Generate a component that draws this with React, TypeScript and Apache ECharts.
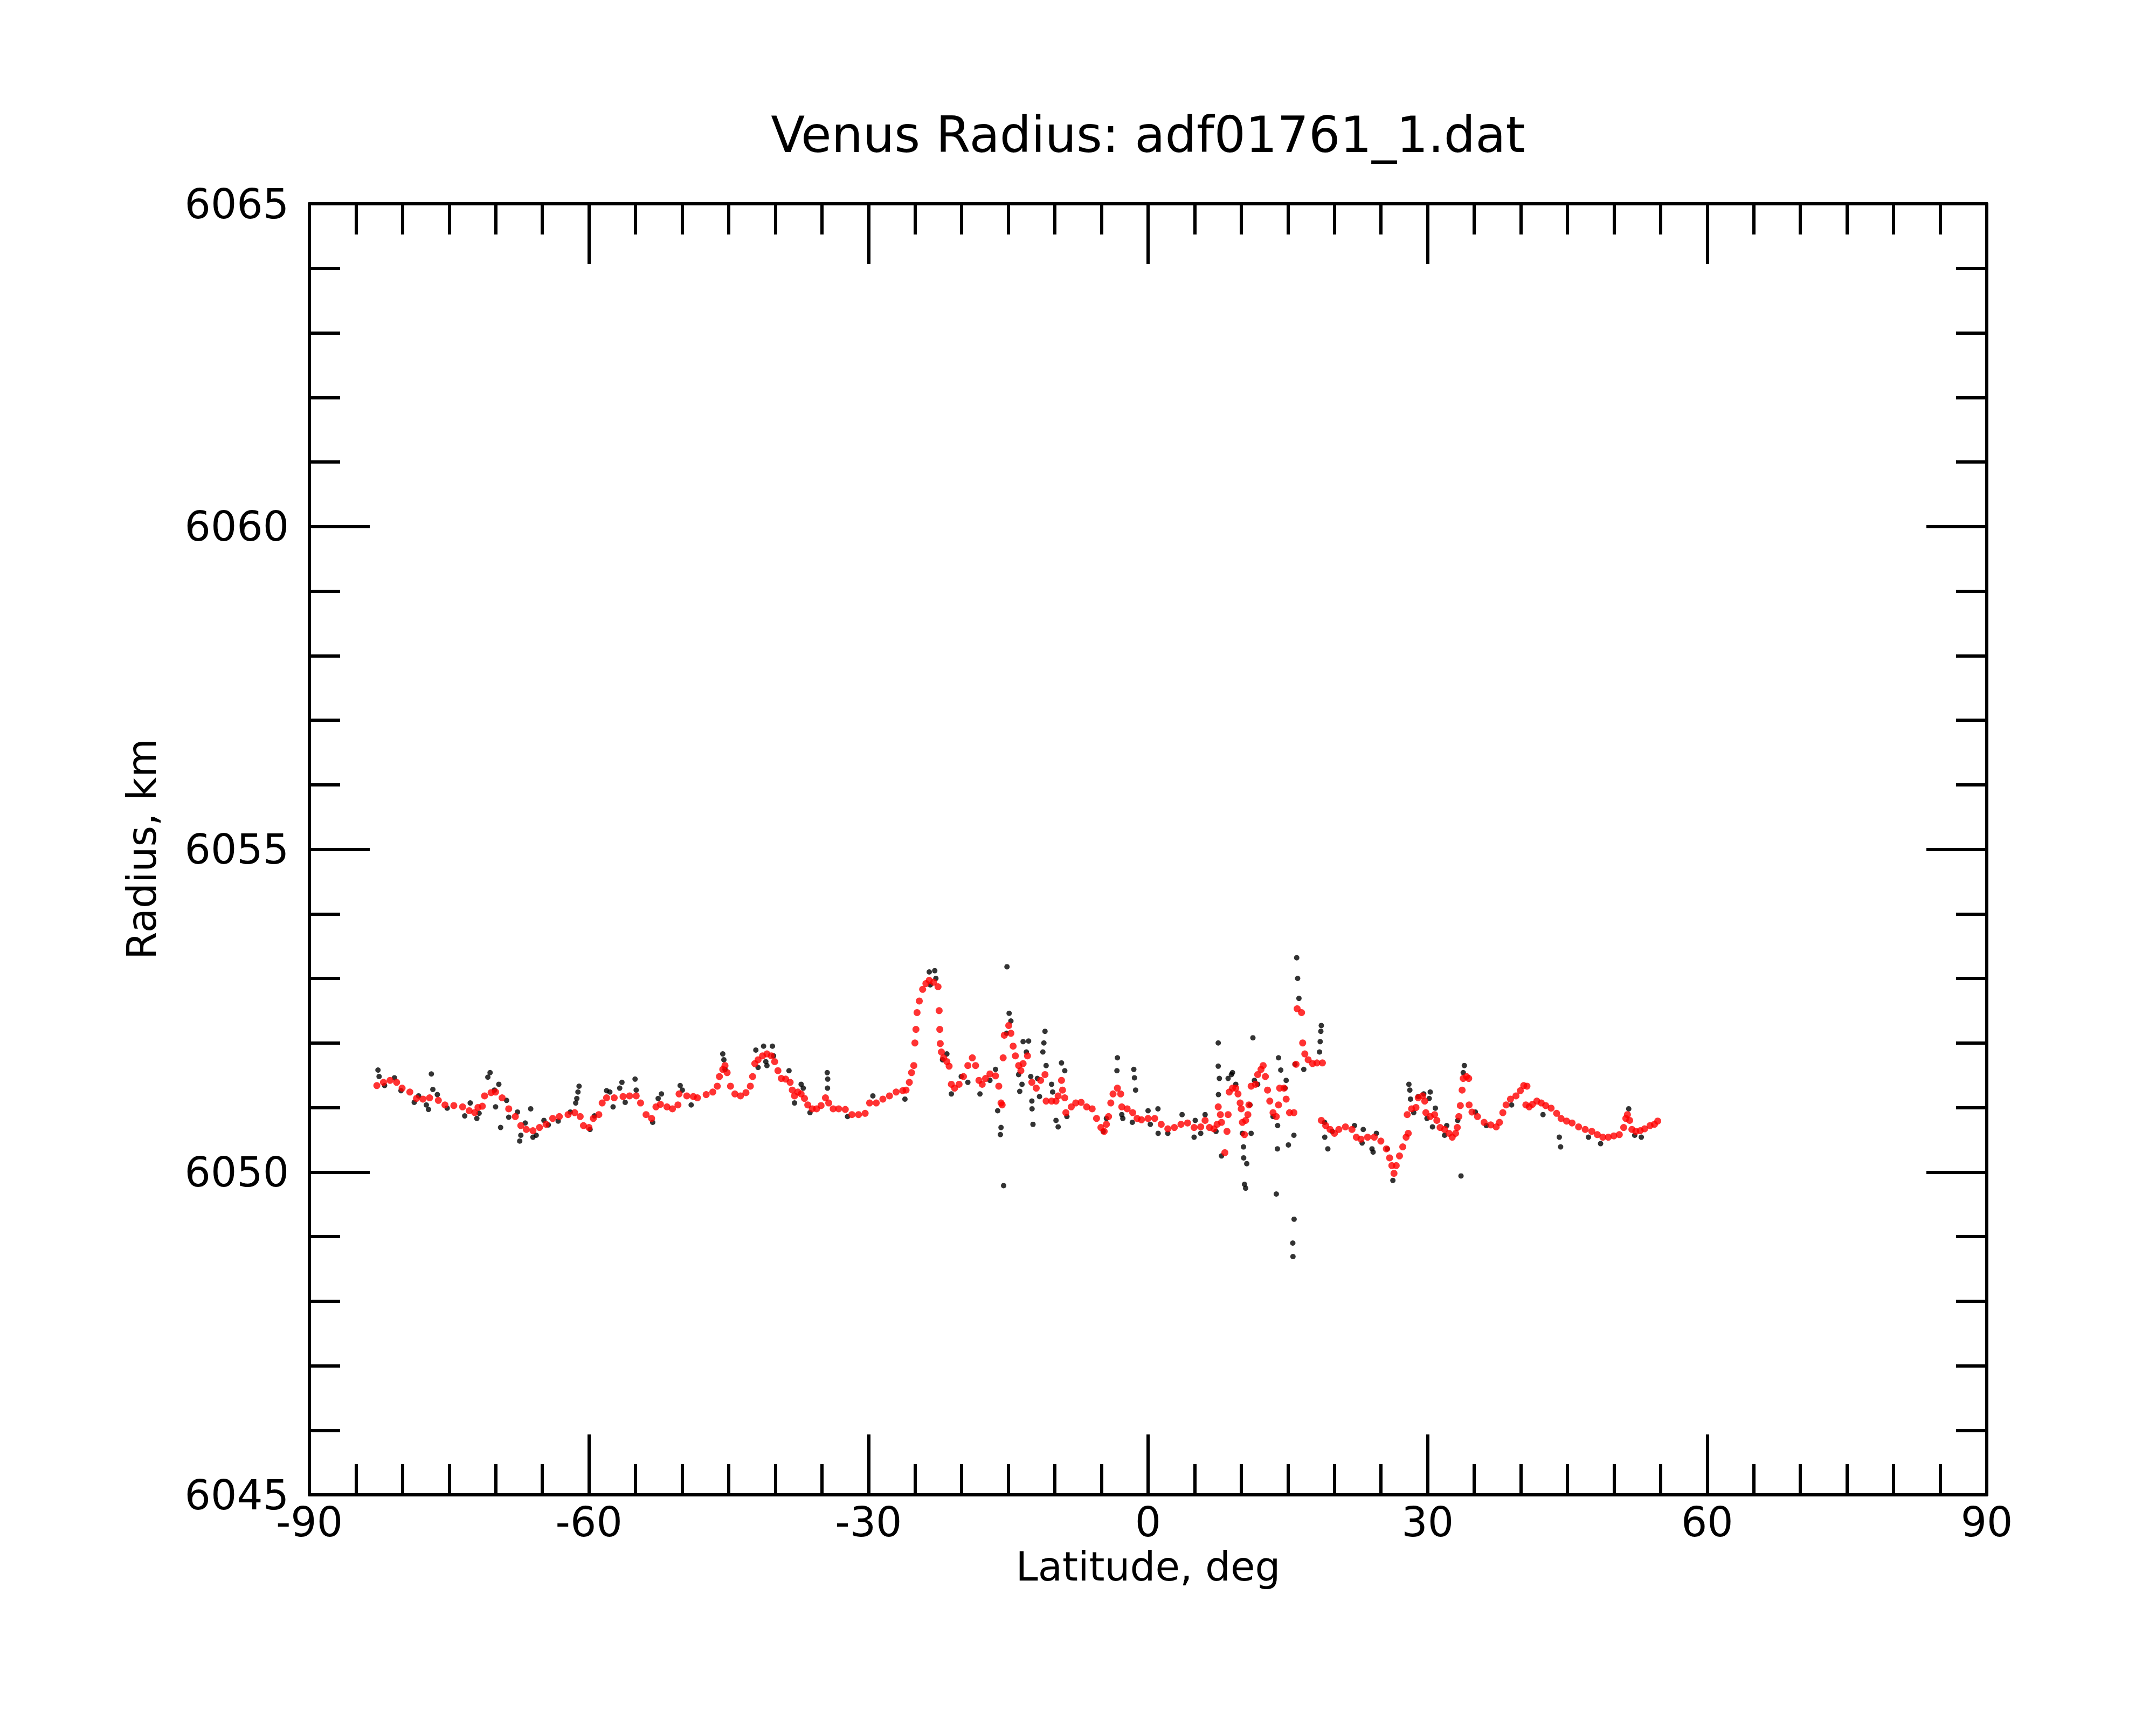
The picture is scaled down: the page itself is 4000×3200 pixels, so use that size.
import React, { useEffect, useRef } from "react";
import * as echarts from "echarts";

const TITLE = "Venus Radius: adf01761_1.dat";
const X_NAME = "Latitude, deg";
const Y_NAME = "Radius, km";
const X_MIN = -90;
const X_MAX = 90;
const X_STEP = 30;
const Y_MIN = 6045;
const Y_MAX = 6065;
const Y_STEP = 5;

// smoothed profile (red)
const redLat = [
  -82.76, -82.05, -81.34, -80.64, -80.05, -79.22, -78.51, -77.81, -77.1, -76.16,
  -75.45, -74.5, -73.56, -72.85, -72.26, -71.91, -71.44, -71.2, -70.5, -70.02,
  -69.32, -68.61, -67.9, -67.31, -66.72, -66.01, -65.31, -64.6, -63.89, -63.18,
  -62.24, -61.53, -60.94, -60.59, -60.0, -59.53, -58.94, -58.58, -58.11, -57.29,
  -56.34, -55.64, -54.93, -54.46, -53.87, -53.28, -52.81, -52.33, -51.63, -51.04,
  -50.45, -50.33, -49.5, -48.8,
  -48.36, -47.42, -46.71, -46.23, -46.0, -45.64, -45.4, -45.17, -44.81, -44.34,
  -43.74, -43.15, -42.68, -42.44, -42.2, -41.85, -41.37, -40.9, -40.43, -40.07,
  -39.72, -39.36, -38.89, -38.41, -38.18, -37.94, -37.58, -37.23, -36.87, -36.52,
  -36.04, -35.57, -35.09, -34.62, -34.27, -33.79, -33.2, -32.49, -31.78, -31.07,
  -30.36, -29.88, -29.17, -28.46, -27.75, -27.04, -26.33, -25.97, -25.62, -25.38,
  -25.14, -25.02, -24.91, -24.79, -24.55, -24.19, -23.84, -23.48, -23.01, -22.54,
  -22.42, -22.35, -22.3, -22.18, -21.94, -21.59, -21.35, -21.11, -20.76, -20.28,
  -19.81, -19.34, -18.86, -18.51, -18.15, -17.8, -17.44, -16.97, -16.37, -16.02,
  -15.78, -15.66, -15.55, -15.43, -14.95, -14.72, -14.48, -14.24, -13.89, -13.65,
  -13.41, -12.94, -12.47, -12.0, -11.53, -11.06, -10.94, -10.35, -9.88, -9.65,
  -9.29, -9.18, -8.94, -8.82, -8.24, -7.76, -7.18, -6.59, -6.0, -5.53,
  -5.06, -4.71, -4.47, -4.24, -4.0, -3.76, -3.29, -2.94, -2.82, -2.24,
  -1.65, -1.18, -0.71, 0.0, 0.71, 1.41, 2.12, 2.82, 3.53, 4.24,
  4.94, 5.65, 6.12, 6.59, 7.06, 7.41, 7.53, 7.76, 7.88, 8.24,
  8.47, 8.59, 8.71, 9.06, 9.41, 9.65, 9.88, 10.0, 10.12, 10.35,
  10.47, 10.71, 10.82, 11.06, 11.53, 11.76, 12.12, 12.35, 12.59, 12.82,
  13.06, 13.41, 13.76, 14.0, 14.12, 14.59, 14.82, 15.18, 15.65, 15.88,
  16.0, 16.47, 16.59, 16.82, 17.18, 17.65, 18.12, 18.71, 18.59, 19.06,
  19.53, 20.0, 20.47, 21.18, 21.88, 22.35,
  22.85, 23.56, 24.27, 24.98, 25.57, 25.92, 26.16, 26.39, 26.63, 26.98,
  27.33, 27.69, 27.92, 27.81, 28.28, 28.75, 28.99, 29.46, 29.69, 29.81,
  30.28, 30.75, 30.99, 31.34, 31.82, 32.29, 32.64, 33.0, 33.18, 33.35,
  33.51, 33.7, 33.82, 34.17, 34.41, 34.45, 34.76, 35.35, 36.06, 36.77,
  37.36, 37.71, 38.07, 38.42, 38.89, 39.48, 39.95, 40.31, 40.66, 40.54,
  40.9, 41.25, 41.72, 42.19, 42.67, 43.25, 43.84, 44.32, 44.91, 45.5,
  46.2, 46.91, 47.62, 48.21, 48.8, 49.39, 49.98, 50.57, 51.04, 51.27,
  51.44, 51.68, 51.92, 52.34, 52.81, 53.28, 53.87, 54.34, 54.69,
];
const redRad = [
  6051.34, 6051.39, 6051.42, 6051.39, 6051.3, 6051.24, 6051.14, 6051.13, 6051.15, 6051.11,
  6051.04, 6051.03, 6051.01, 6050.95, 6050.92, 6051.0, 6051.02, 6051.18, 6051.23, 6051.24,
  6051.15, 6050.98, 6050.86, 6050.72, 6050.66, 6050.64, 6050.69, 6050.74, 6050.83, 6050.86,
  6050.89, 6050.92, 6050.86, 6050.72, 6050.69, 6050.83, 6050.89, 6051.07, 6051.15, 6051.15,
  6051.17, 6051.18, 6051.18, 6051.07, 6050.89, 6050.83, 6051.01, 6051.05, 6051.01, 6050.98,
  6051.04, 6051.21, 6051.18, 6051.17,
  6051.15, 6051.2, 6051.24, 6051.33, 6051.48, 6051.59, 6051.65, 6051.54, 6051.33, 6051.21,
  6051.18, 6051.23, 6051.33, 6051.48, 6051.68, 6051.74, 6051.8, 6051.83, 6051.8, 6051.71,
  6051.57, 6051.45, 6051.44, 6051.39, 6051.27, 6051.18, 6051.24, 6051.21, 6051.14, 6051.04,
  6050.98, 6050.98, 6051.03, 6051.15, 6051.07, 6050.98, 6050.98, 6050.97, 6050.89, 6050.89,
  6050.91, 6051.07, 6051.07, 6051.13, 6051.18, 6051.24, 6051.26, 6051.27, 6051.39, 6051.54,
  6051.65, 6052.0, 6052.21, 6052.47, 6052.65, 6052.83, 6052.92, 6052.97, 6052.94, 6052.87,
  6052.5, 6052.21, 6051.99, 6051.86, 6051.77, 6051.71, 6051.64, 6051.36, 6051.3, 6051.36,
  6051.48, 6051.65, 6051.77, 6051.65, 6051.42, 6051.36, 6051.45, 6051.52, 6051.49, 6051.33,
  6051.07, 6051.04, 6051.77, 6052.12, 6052.27, 6052.15, 6051.95, 6051.8, 6051.65, 6051.57,
  6051.68, 6051.8, 6051.39, 6051.3, 6051.42, 6051.51, 6051.1, 6051.1, 6051.1, 6051.18,
  6051.42, 6051.27, 6051.15, 6050.92, 6051.01, 6051.07, 6051.08, 6051.01, 6050.98, 6050.83,
  6050.69, 6050.63, 6050.74, 6050.86, 6051.07, 6051.21, 6051.3, 6051.21, 6051.01, 6050.98,
  6050.92, 6050.83, 6050.81, 6050.83, 6050.83, 6050.74, 6050.67, 6050.69, 6050.74, 6050.76,
  6050.69, 6050.7, 6050.8, 6050.69, 6050.67, 6050.74, 6051.01, 6050.89, 6050.77, 6050.3,
  6050.63, 6050.89, 6051.24, 6051.3, 6051.3, 6051.21, 6051.07, 6050.98, 6050.77, 6050.58,
  6050.8, 6050.89, 6051.04, 6051.33, 6051.36, 6051.51, 6051.59, 6051.65, 6051.48, 6051.27,
  6051.1, 6050.92, 6050.86, 6051.04, 6051.3, 6051.3, 6051.13, 6050.92, 6050.92, 6051.67,
  6052.53, 6052.47, 6052.0, 6051.83, 6051.74, 6051.68, 6051.69, 6051.69, 6050.8, 6050.72,
  6050.66, 6050.6, 6050.66, 6050.7, 6050.66, 6050.54,
  6050.51, 6050.54, 6050.54, 6050.48, 6050.36, 6050.22, 6050.1, 6049.98, 6050.1, 6050.25,
  6050.39, 6050.54, 6050.6, 6050.89, 6050.98, 6051.0, 6051.15, 6051.18, 6051.1, 6050.92,
  6050.86, 6050.89, 6050.8, 6050.69, 6050.66, 6050.6, 6050.54, 6050.6, 6050.69, 6050.86,
  6051.03, 6051.27, 6051.45, 6051.48, 6051.45, 6051.04, 6050.93, 6050.86, 6050.77, 6050.73,
  6050.7, 6050.77, 6050.92, 6051.04, 6051.13, 6051.18, 6051.26, 6051.34, 6051.33, 6051.04,
  6051.01, 6051.05, 6051.1, 6051.07, 6051.03, 6050.99, 6050.91, 6050.83, 6050.79, 6050.76,
  6050.7, 6050.66, 6050.63, 6050.58, 6050.54, 6050.54, 6050.56, 6050.58, 6050.69, 6050.83,
  6050.89, 6050.8, 6050.66, 6050.63, 6050.64, 6050.67, 6050.72, 6050.74, 6050.79,
];

// raw measurements (black)
const blackLat = [
  -82.64, -82.52, -81.93, -80.87, -80.17, -78.75, -78.28, -77.45, -77.22, -76.91,
  -76.75, -76.27, -75.21, -73.33, -72.74, -72.03, -71.79, -70.85, -70.61, -70.14,
  -70.02, -69.67, -69.48, -68.84, -68.61, -67.67, -67.43, -67.31, -66.84, -66.25,
  -66.01, -65.66, -64.83, -64.36, -63.3, -62.0, -61.3, -61.06, -61.18, -61.42,
  -59.88, -59.41, -58.11, -57.76, -57.41, -56.7, -56.46, -56.11, -55.05, -54.93,
  -53.16, -52.57, -52.22, -50.21, -49.98, -49.03,
  -45.64, -45.52, -45.4, -42.09, -41.85, -41.26, -41.02, -40.9, -40.31, -40.19,
  -38.53, -37.94, -37.23, -37.0, -36.28, -34.43, -34.38, -34.4, -32.25, -29.53,
  -26.09, -23.48, -22.89, -22.77, -23.37, -22.06, -21.59, -21.11, -20.05, -19.34,
  -18.04, -16.97, -16.37, -16.14, -15.78, -15.85, -15.5, -15.14, -14.91, -14.72,
  -15.19, -13.89, -13.77, -13.53,
  -13.41, -12.82, -13.06, -12.59, -12.47, -12.45, -12.35, -11.88, -11.65, -11.29,
  -11.18, -11.06, -10.94, -10.35, -10.24, -9.88, -9.65, -9.29, -8.94, -8.71,
  -4.82, -4.47, -3.29, -3.34, -2.82, -2.71, -1.69, -1.53, -1.46, -1.34,
  0.0, 0.24, 1.06, 1.08, 2.12, 3.65, 4.94, 5.06, 5.65, 6.12,
  7.53, 7.53, 7.65, 7.55, 7.29, 7.88, 8.59, 8.94, 9.06, 9.41,
  10.12, 10.24, 10.26, 10.59, 10.35, 10.47, 10.94, 11.06, 11.25, 11.41,
  11.76, 13.41, 13.76, 13.88, 13.9, 14.0, 14.24, 14.71, 14.82, 15.06,
  15.65, 15.67, 15.53, 15.55, 15.95, 16.05, 16.19, 15.76, 16.71, 18.59,
  18.54, 18.47, 18.4, 18.94, 18.96, 19.29, 19.76,
  22.15, 23.09, 22.97, 24.03, 24.5, 24.15, 25.68, 26.27, 27.99, 28.09,
  28.16, 28.51, 28.99, 29.58, 30.28, 30.17, 29.93, 30.52, 30.83, 31.82,
  32.05, 33.23, 33.58, 33.94, 33.82, 35.12, 36.3, 39.01, 42.38, 44.13,
  44.27, 47.26, 48.56, 51.58, 52.22, 52.93,
];
const blackRad = [
  6051.58, 6051.48, 6051.34, 6051.46, 6051.26, 6051.08, 6051.18, 6051.04, 6050.97, 6051.52,
  6051.28, 6051.2, 6050.99, 6050.87, 6051.07, 6050.83, 6050.91, 6051.47, 6051.54, 6051.27,
  6051.01, 6051.36, 6050.69, 6051.11, 6050.85, 6050.93, 6050.48, 6050.57, 6050.76, 6050.98,
  6050.54, 6050.57, 6050.8, 6050.73, 6050.79, 6050.93, 6051.14, 6051.33, 6051.24, 6051.07,
  6050.66, 6050.87, 6051.26, 6051.24, 6051.01, 6051.3, 6051.39, 6051.08, 6051.44, 6051.27,
  6050.77, 6051.14, 6051.21, 6051.34, 6051.27, 6051.04,
  6051.83, 6051.74, 6051.59, 6051.89, 6051.62, 6051.95, 6051.71, 6051.65, 6051.95, 6051.8,
  6051.57, 6051.07, 6051.36, 6051.3, 6050.92, 6051.54, 6051.44, 6051.3, 6050.86, 6051.18,
  6051.13, 6053.1, 6053.12, 6053.0, 6052.9, 6051.74, 6051.83, 6051.21, 6051.48, 6051.39,
  6051.21, 6051.42, 6051.59, 6050.95, 6050.69, 6050.58, 6049.79, 6053.18, 6052.46, 6052.34,
  6052.15, 6051.51, 6051.25, 6051.36,
  6052.02, 6052.03, 6051.86, 6051.48, 6051.1, 6050.98, 6050.74, 6051.45, 6051.17, 6051.86,
  6052.0, 6052.18, 6051.65, 6051.36, 6051.24, 6050.8, 6050.7, 6051.69, 6051.57, 6050.86,
  6050.63, 6050.83, 6051.77, 6051.57, 6050.89, 6050.83, 6050.77, 6051.59, 6051.46, 6051.27,
  6050.95, 6050.74, 6050.98, 6050.6, 6050.6, 6050.89, 6050.54, 6050.8, 6050.6, 6050.89,
  6052.0, 6051.64, 6051.45, 6051.2, 6050.63, 6050.25, 6051.45, 6051.51, 6051.54, 6051.36,
  6050.6, 6050.39, 6050.22, 6050.13, 6049.81, 6049.75, 6051.04, 6050.6, 6052.08, 6051.42,
  6051.36, 6050.86, 6049.66, 6050.36, 6050.72, 6051.77, 6051.58, 6051.3, 6051.42, 6050.42,
  6050.57, 6049.27, 6048.9, 6048.69, 6053.32, 6053.0, 6052.69, 6051.67, 6051.59, 6052.27,
  6052.18, 6052.02, 6051.86, 6050.77, 6050.54, 6050.36, 6050.63,
  6050.72, 6050.66, 6050.45, 6050.36, 6050.6, 6050.31, 6050.36, 6049.87, 6051.36, 6051.27,
  6051.13, 6050.92, 6051.17, 6051.21, 6051.24, 6051.14, 6050.83, 6050.7, 6050.99, 6050.57,
  6050.72, 6050.8, 6049.94, 6051.65, 6051.54, 6050.93, 6050.72, 6051.04, 6050.89, 6050.54,
  6050.39, 6050.54, 6050.44, 6050.98, 6050.57, 6050.54,
];

const FONT = "DejaVu Sans";

export default function App() {
  const ref = useRef<HTMLDivElement>(null);

  useEffect(() => {
    const el = ref.current;
    if (!el) return;
    const chart = echarts.init(el, undefined, { renderer: "svg" });

    const black = "#000000";
    const lineStyle = { color: black, width: 6 };
    const axisLine = { show: true, onZero: false, lineStyle };
    const labelStyle = {
      color: black,
      fontFamily: FONT,
      fontSize: 76,
      formatter: (v: number) => String(v),
    };

    const xBase = {
      type: "value",
      min: X_MIN,
      max: X_MAX,
      interval: X_STEP,
      axisLine,
      splitLine: { show: false },
      axisTick: { show: true, inside: true, length: 112, lineStyle },
      minorTick: { show: true, splitNumber: 6, length: 57, lineStyle },
      minorSplitLine: { show: false },
    };
    const yBase = {
      type: "value",
      min: Y_MIN,
      max: Y_MAX,
      interval: Y_STEP,
      axisLine,
      splitLine: { show: false },
      axisTick: { show: true, inside: true, length: 112, lineStyle },
      minorTick: { show: true, splitNumber: 5, length: 57, lineStyle },
      minorSplitLine: { show: false },
    };

    const blackData = blackLat.map((x, i) => [x, blackRad[i]]);
    const redData = redLat.map((x, i) => [x, redRad[i]]);

    const textStyle = (text: string, size: number) => ({
      text,
      fontFamily: FONT,
      fontSize: size,
      fill: black,
      align: "center",
      verticalAlign: "middle",
      textAlign: "center",
      textVerticalAlign: "middle",
    });

    chart.setOption({
      animation: false,
      backgroundColor: "#ffffff",
      grid: { left: 574, right: 314, top: 378, bottom: 427, containLabel: false },
      xAxis: [
        { ...xBase, position: "bottom", axisLabel: { ...labelStyle, margin: 12 } },
        { ...xBase, position: "top", axisLabel: { show: false } },
      ],
      yAxis: [
        { ...yBase, position: "left", axisLabel: { ...labelStyle, margin: 38 } },
        { ...yBase, position: "right", axisLabel: { show: false } },
      ],
      graphic: [
        { type: "text", x: 2130, y: 250, style: textStyle(TITLE, 92) },
        { type: "text", x: 2130, y: 2906, style: textStyle(X_NAME, 74) },
        { type: "text", x: 263, y: 1575, rotation: Math.PI / 2, style: textStyle(Y_NAME, 74) },
      ],
      series: [
        {
          type: "scatter",
          xAxisIndex: 0,
          yAxisIndex: 0,
          data: blackData,
          symbol: "circle",
          symbolSize: 10,
          itemStyle: { color: black },
          silent: true,
        },
        {
          type: "scatter",
          xAxisIndex: 0,
          yAxisIndex: 0,
          data: redData,
          symbol: "circle",
          symbolSize: 13,
          itemStyle: { color: "#ff0000" },
          silent: true,
        },
      ],
    });

    return () => {
      chart.dispose();
    };
  }, []);

  return (
    <div
      ref={ref}
      style={{
        position: "absolute",
        left: 0,
        top: 0,
        width: 4000,
        height: 3200,
        background: "#ffffff",
      }}
    />
  );
}
